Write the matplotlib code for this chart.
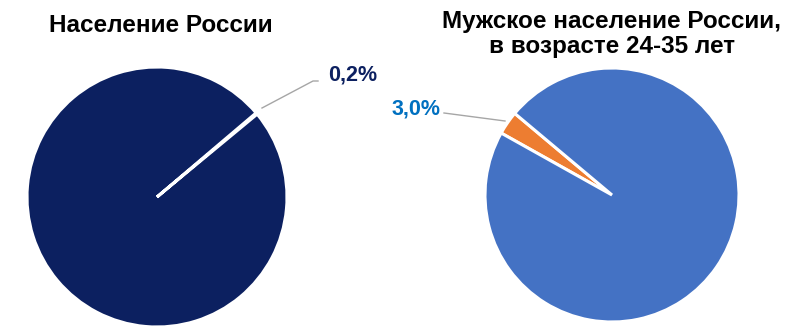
import matplotlib

matplotlib.use("Agg")
import matplotlib.pyplot as plt

# ── data ────────────────────────────────────────────────────────────────────
left_title = "Население России"
left_values = [0.2, 99.8]
left_label = "0,2%"

right_title = "Мужское население России,\nв возрасте 24-35 лет"
right_values = [3.0, 97.0]
right_label = "3,0%"

plt.rcParams["font.family"] = ["Liberation Sans", "DejaVu Sans"]

fig = plt.figure(figsize=(8, 3.33), dpi=100)
ax = fig.add_axes([0, 0, 1, 1])

wedge_kw = dict(edgecolor="white", linewidth=2.2)

# left pie (pixel-like coords, y up)
ax.pie(left_values, colors=["#0C2060", "#0C2060"], startangle=39.6, counterclock=True,
       center=(157, 136), radius=130, wedgeprops=wedge_kw, frame=True)
# right pie
ax.pie(right_values, colors=["#ED7D31", "#4472C4"], startangle=140, counterclock=True,
       center=(612, 138), radius=127, wedgeprops=wedge_kw, frame=True)

# leader lines
ax.plot([262, 313, 318], [225, 252, 252], color="#A6A6A6", lw=1.0)
ax.plot([444, 505], [220, 212], color="#A6A6A6", lw=1.0)

ax.text(353, 258, left_label, ha="center", va="center", fontsize=15.5,
        fontweight="bold", color="#0C2060")
ax.text(416, 224, right_label, ha="center", va="center", fontsize=15.5,
        fontweight="bold", color="#0070C0")

ax.text(161, 307, left_title, ha="center", va="center", fontsize=17.5,
        fontweight="bold", color="black")
ax.text(612, 299, right_title, ha="center", va="center", fontsize=17.5,
        fontweight="bold", color="black", linespacing=1.1)

ax.set_xlim(0, 800)
ax.set_ylim(0, 333)
ax.set_aspect("equal")
ax.axis("off")

fig.savefig("out.png", dpi=100, facecolor="white")
plt.close(fig)
